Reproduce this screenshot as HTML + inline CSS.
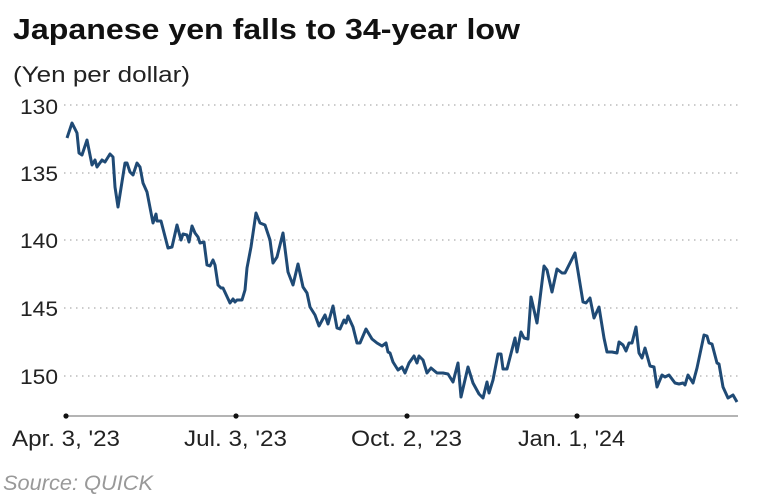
<!DOCTYPE html>
<html><head><meta charset="utf-8"><style>
html,body{margin:0;padding:0;background:#fff;}
body{width:769px;height:496px;overflow:hidden;font-family:"Liberation Sans",sans-serif;}
</style></head><body>
<svg width="769" height="496" xmlns="http://www.w3.org/2000/svg" font-family="Liberation Sans, sans-serif">
<text x="13" y="39" font-size="29" font-weight="bold" fill="#111" textLength="507" lengthAdjust="spacingAndGlyphs">Japanese yen falls to 34-year low</text>
<text x="13" y="82" font-size="22" fill="#222" textLength="177" lengthAdjust="spacingAndGlyphs">(Yen per dollar)</text>
<g font-size="21" fill="#222">
<text x="20" y="114" textLength="38" lengthAdjust="spacingAndGlyphs">130</text>
<text x="20" y="181" textLength="38" lengthAdjust="spacingAndGlyphs">135</text>
<text x="20" y="248" textLength="38" lengthAdjust="spacingAndGlyphs">140</text>
<text x="20" y="316" textLength="38" lengthAdjust="spacingAndGlyphs">145</text>
<text x="20" y="384" textLength="38" lengthAdjust="spacingAndGlyphs">150</text>
</g>
<g stroke="#bbb" stroke-width="1.5" stroke-dasharray="1.5 4.5">
<line x1="64" y1="105" x2="740" y2="105"/>
<line x1="64" y1="173" x2="740" y2="173"/>
<line x1="64" y1="240" x2="740" y2="240"/>
<line x1="64" y1="308" x2="740" y2="308"/>
<line x1="64" y1="376" x2="740" y2="376"/>
</g>
<line x1="66" y1="416" x2="738" y2="416" stroke="#888" stroke-width="1.2"/>
<g fill="#111"><circle cx="66" cy="416" r="2.6"/><circle cx="236" cy="416" r="2.6"/><circle cx="407" cy="416" r="2.6"/><circle cx="577" cy="416" r="2.6"/></g>
<g font-size="22" fill="#222">
<text x="12" y="446" textLength="108" lengthAdjust="spacingAndGlyphs">Apr. 3, '23</text>
<text x="184" y="446" textLength="103" lengthAdjust="spacingAndGlyphs">Jul. 3, '23</text>
<text x="351" y="446" textLength="111" lengthAdjust="spacingAndGlyphs">Oct. 2, '23</text>
<text x="518" y="446" textLength="107" lengthAdjust="spacingAndGlyphs">Jan. 1, '24</text>
</g>
<text x="3" y="490" font-size="21" font-style="italic" fill="#999" textLength="150" lengthAdjust="spacingAndGlyphs">Source: QUICK</text>
<polyline fill="none" stroke="#1f4a75" stroke-width="3" stroke-linejoin="round" points="67,138 72,123 77,133 79,153 82,155 87,140 92,165 95,160 97,167 102,160 105,162 110,154 113,157 115,187 118,207 125,163 127,163 130,172 133,175 137,163 140,167 143,183 147,192 153,223 156,214 157,221 161,221 168,248 172,247 177,225 181,240 183,234 187,235 189,242 192,226 195,233 198,237 200,243 204,242 207,265 210,266 213,260 215,265 218,285 221,288 223,288 230,303 233,299 235,302 237,300 242,300 245,290 247,268 251,247 256,213 260,223 265,225 270,240 273,263 277,257 283,233 288,272 293,285 298,264 303,287 307,293 310,307 315,315 319,326 325,315 328,324 333,306 337,328 340,329 344,320 346,323 348,316 353,327 357,343 360,343 366,329 372,339 377,343 382,346 386,343 388,352 390,353 393,362 398,370 402,367 405,373 409,363 414,356 417,363 419,356 423,360 427,373 431,368 437,373 443,373 448,374 453,382 458,363 461,397 468,367 473,383 479,394 483,398 487,382 489,393 493,380 498,354 501,354 503,369 507,369 515,338 517,352 521,332 524,338 528,339 531,297 537,323 544,266 547,270 552,292 557,269 562,273 565,273 575,253 583,302 586,303 590,298 594,318 599,307 604,338 607,352 612,352 617,353 619,342 623,345 626,351 629,343 632,343 636,327 639,353 642,358 645,348 650,366 654,367 657,387 662,375 665,377 669,375 675,383 679,384 683,383 685,385 688,375 693,383 697,368 704,335 707,336 709,343 712,344 717,363 719,364 723,387 728,398 733,395 737,402"/>
</svg>
</body></html>
